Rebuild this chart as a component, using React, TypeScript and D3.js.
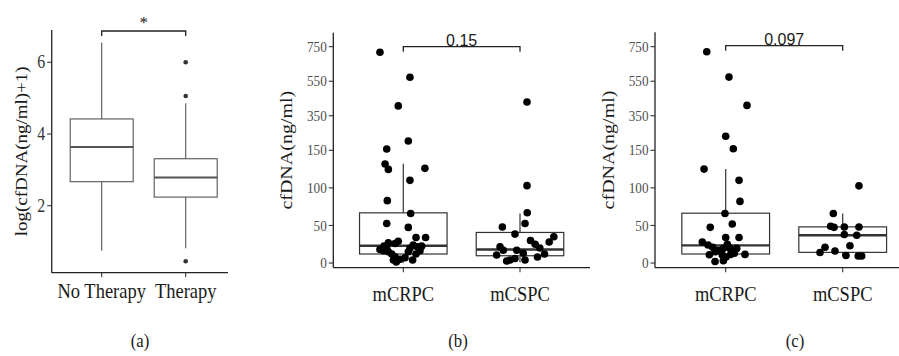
import React from "react";
import * as d3 from "d3";

// ---------- Panel (a) data ----------
const aCategories = ["No Therapy", "Therapy"];
const aWhiskerLow = [0.74, 0.81];
const aQ1 = [2.67, 2.24];
const aMedian = [3.64, 2.79];
const aQ3 = [4.42, 3.31];
const aWhiskerHigh = [6.55, 4.86];
const aOutliers: number[][] = [[], [6.0, 5.06, 0.45]];
const aTicks = [2, 4, 6];
const aSignif = "*";

// ---------- Panels (b)/(c) shared ----------
const bcCategories = ["mCRPC", "mCSPC"];
const bcTicks = [0, 50, 100, 150, 350, 550, 750];

// ---------- Panel (b) data ----------
const bWhiskerLow = [0.5, 1];
const bQ1 = [12, 9.7];
const bMedian = [23, 18];
const bQ3 = [66.8, 40.7];
const bWhiskerHigh = [132, 66];
const bPValue = "0.15";
// [jitter (category units), cfDNA value]
const bPointsCRPC: [number, number][] = [
  [-0.2, 718], [0.057, 573], [-0.043, 407], [0.043, 204], [-0.142, 157.5],
  [-0.156, 131.7], [-0.128, 124.6], [0.185, 126], [0.057, 110], [-0.137, 83],
  [0.063, 66], [-0.142, 52.7], [0.043, 47.4], [0.109, 34], [0.191, 34],
  [-0.043, 29], [-0.071, 26], [-0.128, 27], [-0.165, 22.5], [-0.142, 19.5],
  [-0.171, 16.3], [-0.128, 15], [-0.099, 12], [-0.071, 8.4], [-0.085, 4],
  [-0.028, 5], [0.015, 7], [0.043, 15], [0.085, 24], [0.12, 21.6],
  [0.143, 16.3], [0.109, 12], [0.08, 4], [0.157, 22.5], [0.057, 19.5],
  [-0.2, 18], [-0.06, 1.5],
];
const bPointsCSPC: [number, number][] = [
  [0.06, 430], [0.06, 103], [0.062, 67], [-0.151, 48], [-0.043, 38.5],
  [0.043, 52.7], [-0.171, 21.6], [-0.143, 17], [-0.2, 10.6], [-0.085, 4],
  [-0.043, 6], [-0.028, 17], [0.028, 13], [0.043, 4], [-0.114, 2.7],
  [0.13, 25], [0.17, 20], [0.21, 12], [0.25, 28], [0.15, 8], [0.29, 35], [0.09, 30],
];

// ---------- Panel (c) data ----------
const cWhiskerLow = [1, 9.3];
const cQ1 = [12, 14.2];
const cMedian = [23.5, 37];
const cQ3 = [66.3, 48.1];
const cWhiskerHigh = [125, 66];
const cPValue = "0.097";
const cPointsCRPC: [number, number][] = [
  [-0.162, 721], [0.028, 574], [0.182, 410], [0, 231], [0.065, 159],
  [-0.185, 125], [0.114, 110], [0.122, 82], [-0.006, 66], [0.056, 52],
  [-0.132, 47.5], [0, 34], [0.114, 34], [-0.2, 28], [-0.151, 24],
  [0.014, 25], [-0.111, 21], [-0.063, 17], [-0.02, 19.5], [0.037, 19.5],
  [0.094, 19.5], [-0.14, 11], [-0.029, 10.6], [0.043, 11.5], [0.165, 11.5],
  [-0.091, 2], [-0.02, 3], [0.003, 8], [0.074, 13], [-0.091, 15],
];
const cPointsCSPC: [number, number][] = [
  [0.139, 102.7], [-0.08, 66], [-0.103, 49], [-0.074, 47.5], [0.014, 48],
  [0.139, 48], [0.014, 38], [0.12, 37], [0.062, 23], [-0.151, 21],
  [-0.194, 14], [-0.066, 16], [0.028, 10], [0.133, 9.3], [0.162, 9.3],
];

const SERIF = "'Liberation Serif', 'Times New Roman', serif";
const SANS = "'Liberation Sans', Arial, sans-serif";
const SX = 0.88;

function SText(props: {
  x: number; y: number; size: number; fill?: string; anchor?: string; children: React.ReactNode; family?: string; sx?: number;
}) {
  const { x, y, size, fill = "#1a1a1a", anchor = "middle", children, family = SERIF, sx = SX } = props;
  return (
    <text
      transform={`translate(${x},${y}) scale(${sx},1)`}
      fontFamily={family}
      fontSize={size}
      fill={fill}
      textAnchor={anchor as any}
    >
      {children}
    </text>
  );
}

type BoxStats = { low: number[]; q1: number[]; med: number[]; q3: number[]; high: number[] };

function Panel(props: {
  axisX: number; axisTop: number; axisBottom: number; axisRight: number;
  centers: [number, number];
  y: d3.ScaleLinear<number, number>;
  ticks: number[];
  tickSize: number; tickFill: string;
  categories: string[];
  stats: BoxStats;
  boxStroke: string; boxWidth: number; boxLW: number; medLW: number;
  points?: [number, number][][];
  outliers?: number[][];
  pointR: number;
  bracketY: number; bracketText: string; bracketFont: string; bracketSize: number; bracketTextY: number;
  ylabel: string; ylabelX: number; ylabelSize: number;
  xlabelY: number; xlabelSize: number;
}) {
  const p = props;
  const x = d3.scalePoint<string>().domain(p.categories).range(p.centers).padding(0);
  const unit = p.centers[1] - p.centers[0];
  const half = (p.boxWidth * unit) / 2;
  const ylabelCenter = (p.axisTop + p.axisBottom) / 2;
  return (
    <g>
      {p.categories.map((c, i) => {
        const cx = x(c)!;
        return (
          <g key={c}>
            <line x1={cx} x2={cx} y1={p.y(p.stats.q3[i])} y2={p.y(p.stats.high[i])} stroke={p.boxStroke} strokeWidth={p.boxLW} />
            <line x1={cx} x2={cx} y1={p.y(p.stats.q1[i])} y2={p.y(p.stats.low[i])} stroke={p.boxStroke} strokeWidth={p.boxLW} />
            <rect
              x={cx - half}
              width={2 * half}
              y={p.y(p.stats.q3[i])}
              height={p.y(p.stats.q1[i]) - p.y(p.stats.q3[i])}
              fill="white"
              stroke={p.boxStroke}
              strokeWidth={p.boxLW}
            />
            <line x1={cx - half} x2={cx + half} y1={p.y(p.stats.med[i])} y2={p.y(p.stats.med[i])} stroke={p.boxStroke} strokeWidth={p.medLW} />
          </g>
        );
      })}
      {p.outliers &&
        p.outliers.map((arr, i) =>
          arr.map((v, j) => <circle key={`o${i}-${j}`} cx={x(p.categories[i])!} cy={p.y(v)} r={p.pointR} fill="#333" />)
        )}
      {p.points &&
        p.points.map((arr, i) =>
          arr.map(([jit, v], j) => (
            <circle key={`p${i}-${j}`} cx={x(p.categories[i])! + jit * unit} cy={p.y(v)} r={p.pointR} fill="#000" />
          ))
        )}
      <line x1={p.axisX} x2={p.axisX} y1={p.axisTop} y2={p.axisBottom} stroke="#222" strokeWidth={1.3} />
      <line x1={p.axisX} x2={p.axisRight} y1={p.axisBottom} y2={p.axisBottom} stroke="#222" strokeWidth={1.3} />
      {p.ticks.map((t) => (
        <g key={t}>
          <line x1={p.axisX - 4.5} x2={p.axisX} y1={p.y(t)} y2={p.y(t)} stroke="#333" strokeWidth={1.1} />
          <SText x={p.axisX - 6.5} y={p.y(t) + p.tickSize * 0.34} size={p.tickSize} fill={p.tickFill} anchor="end">
            {t}
          </SText>
        </g>
      ))}
      {p.categories.map((c) => (
        <g key={c}>
          <line x1={x(c)!} x2={x(c)!} y1={p.axisBottom} y2={p.axisBottom + 4.5} stroke="#333" strokeWidth={1.1} />
          <SText x={x(c)!} y={p.xlabelY} size={p.xlabelSize} fill="#1a1a1a">
            {c}
          </SText>
        </g>
      ))}
      <text
        transform={`translate(${p.ylabelX},${ylabelCenter}) rotate(-90) scale(1,${SX})`}
        fontFamily={SERIF}
        fontSize={p.ylabelSize}
        fill="#1a1a1a"
        textAnchor="middle"
      >
        {p.ylabel}
      </text>
      <path
        d={`M${p.centers[0]},${p.bracketY + 5}V${p.bracketY}H${p.centers[1]}V${p.bracketY + 5}`}
        fill="none"
        stroke="#222"
        strokeWidth={1.3}
      />
      <text
        x={(p.centers[0] + p.centers[1]) / 2}
        y={p.bracketTextY}
        fontFamily={p.bracketFont}
        fontSize={p.bracketSize}
        fill="#1a1a1a"
        textAnchor="middle"
      >
        {p.bracketText}
      </text>
    </g>
  );
}

export default function App() {
  const W = 899;
  const H = 356;

  const yA = d3.scaleLinear().domain([2, 6]).range([205.7, 62.3]);
  const yBC = d3.scaleLinear().domain([-6.2, 150, 831]).range([267.7, 150.3, 32.7]);

  return (
    <svg width={W} height={H} style={{ position: "absolute", left: 0, top: 0, background: "white" }}>
      <rect width={W} height={H} fill="white" />
      <Panel
        axisX={51.7} axisTop={30} axisBottom={272.7} axisRight={228}
        centers={[101.7, 185.7]}
        y={yA}
        ticks={aTicks}
        tickSize={18} tickFill="#333"
        categories={aCategories}
        stats={{ low: aWhiskerLow, q1: aQ1, med: aMedian, q3: aQ3, high: aWhiskerHigh }}
        boxStroke="#555" boxWidth={0.75} boxLW={1.1} medLW={2}
        outliers={aOutliers}
        pointR={2.3}
        bracketY={31} bracketText={aSignif} bracketFont={SERIF} bracketSize={17} bracketTextY={28}
        ylabel="log(cfDNA(ng/ml)+1)" ylabelX={27} ylabelSize={19}
        xlabelY={298} xlabelSize={21}
      />
      <Panel
        axisX={333.3} axisTop={32.7} axisBottom={267.7} axisRight={590}
        centers={[403.3, 520]}
        y={yBC}
        ticks={bcTicks}
        tickSize={15} tickFill="#4d4d4d"
        categories={bcCategories}
        stats={{ low: bWhiskerLow, q1: bQ1, med: bMedian, q3: bQ3, high: bWhiskerHigh }}
        boxStroke="#333" boxWidth={0.75} boxLW={1.2} medLW={2.4}
        points={[bPointsCRPC, bPointsCSPC]}
        pointR={3.8}
        bracketY={46.7} bracketText={bPValue} bracketFont={SANS} bracketSize={16} bracketTextY={46}
        ylabel="cfDNA(ng/ml)" ylabelX={292} ylabelSize={20}
        xlabelY={301} xlabelSize={21}
      />
      <Panel
        axisX={655} axisTop={32.3} axisBottom={267.7} axisRight={899}
        centers={[725.7, 842.7]}
        y={yBC}
        ticks={bcTicks}
        tickSize={15} tickFill="#4d4d4d"
        categories={bcCategories}
        stats={{ low: cWhiskerLow, q1: cQ1, med: cMedian, q3: cQ3, high: cWhiskerHigh }}
        boxStroke="#333" boxWidth={0.75} boxLW={1.2} medLW={2.4}
        points={[cPointsCRPC, cPointsCSPC]}
        pointR={3.8}
        bracketY={45.7} bracketText={cPValue} bracketFont={SANS} bracketSize={16} bracketTextY={45}
        ylabel="cfDNA(ng/ml)" ylabelX={614} ylabelSize={20}
        xlabelY={301} xlabelSize={21}
      />
      <SText x={140} y={347} size={19}>(a)</SText>
      <SText x={458} y={347} size={19}>(b)</SText>
      <SText x={795} y={347} size={19}>(c)</SText>
    </svg>
  );
}
